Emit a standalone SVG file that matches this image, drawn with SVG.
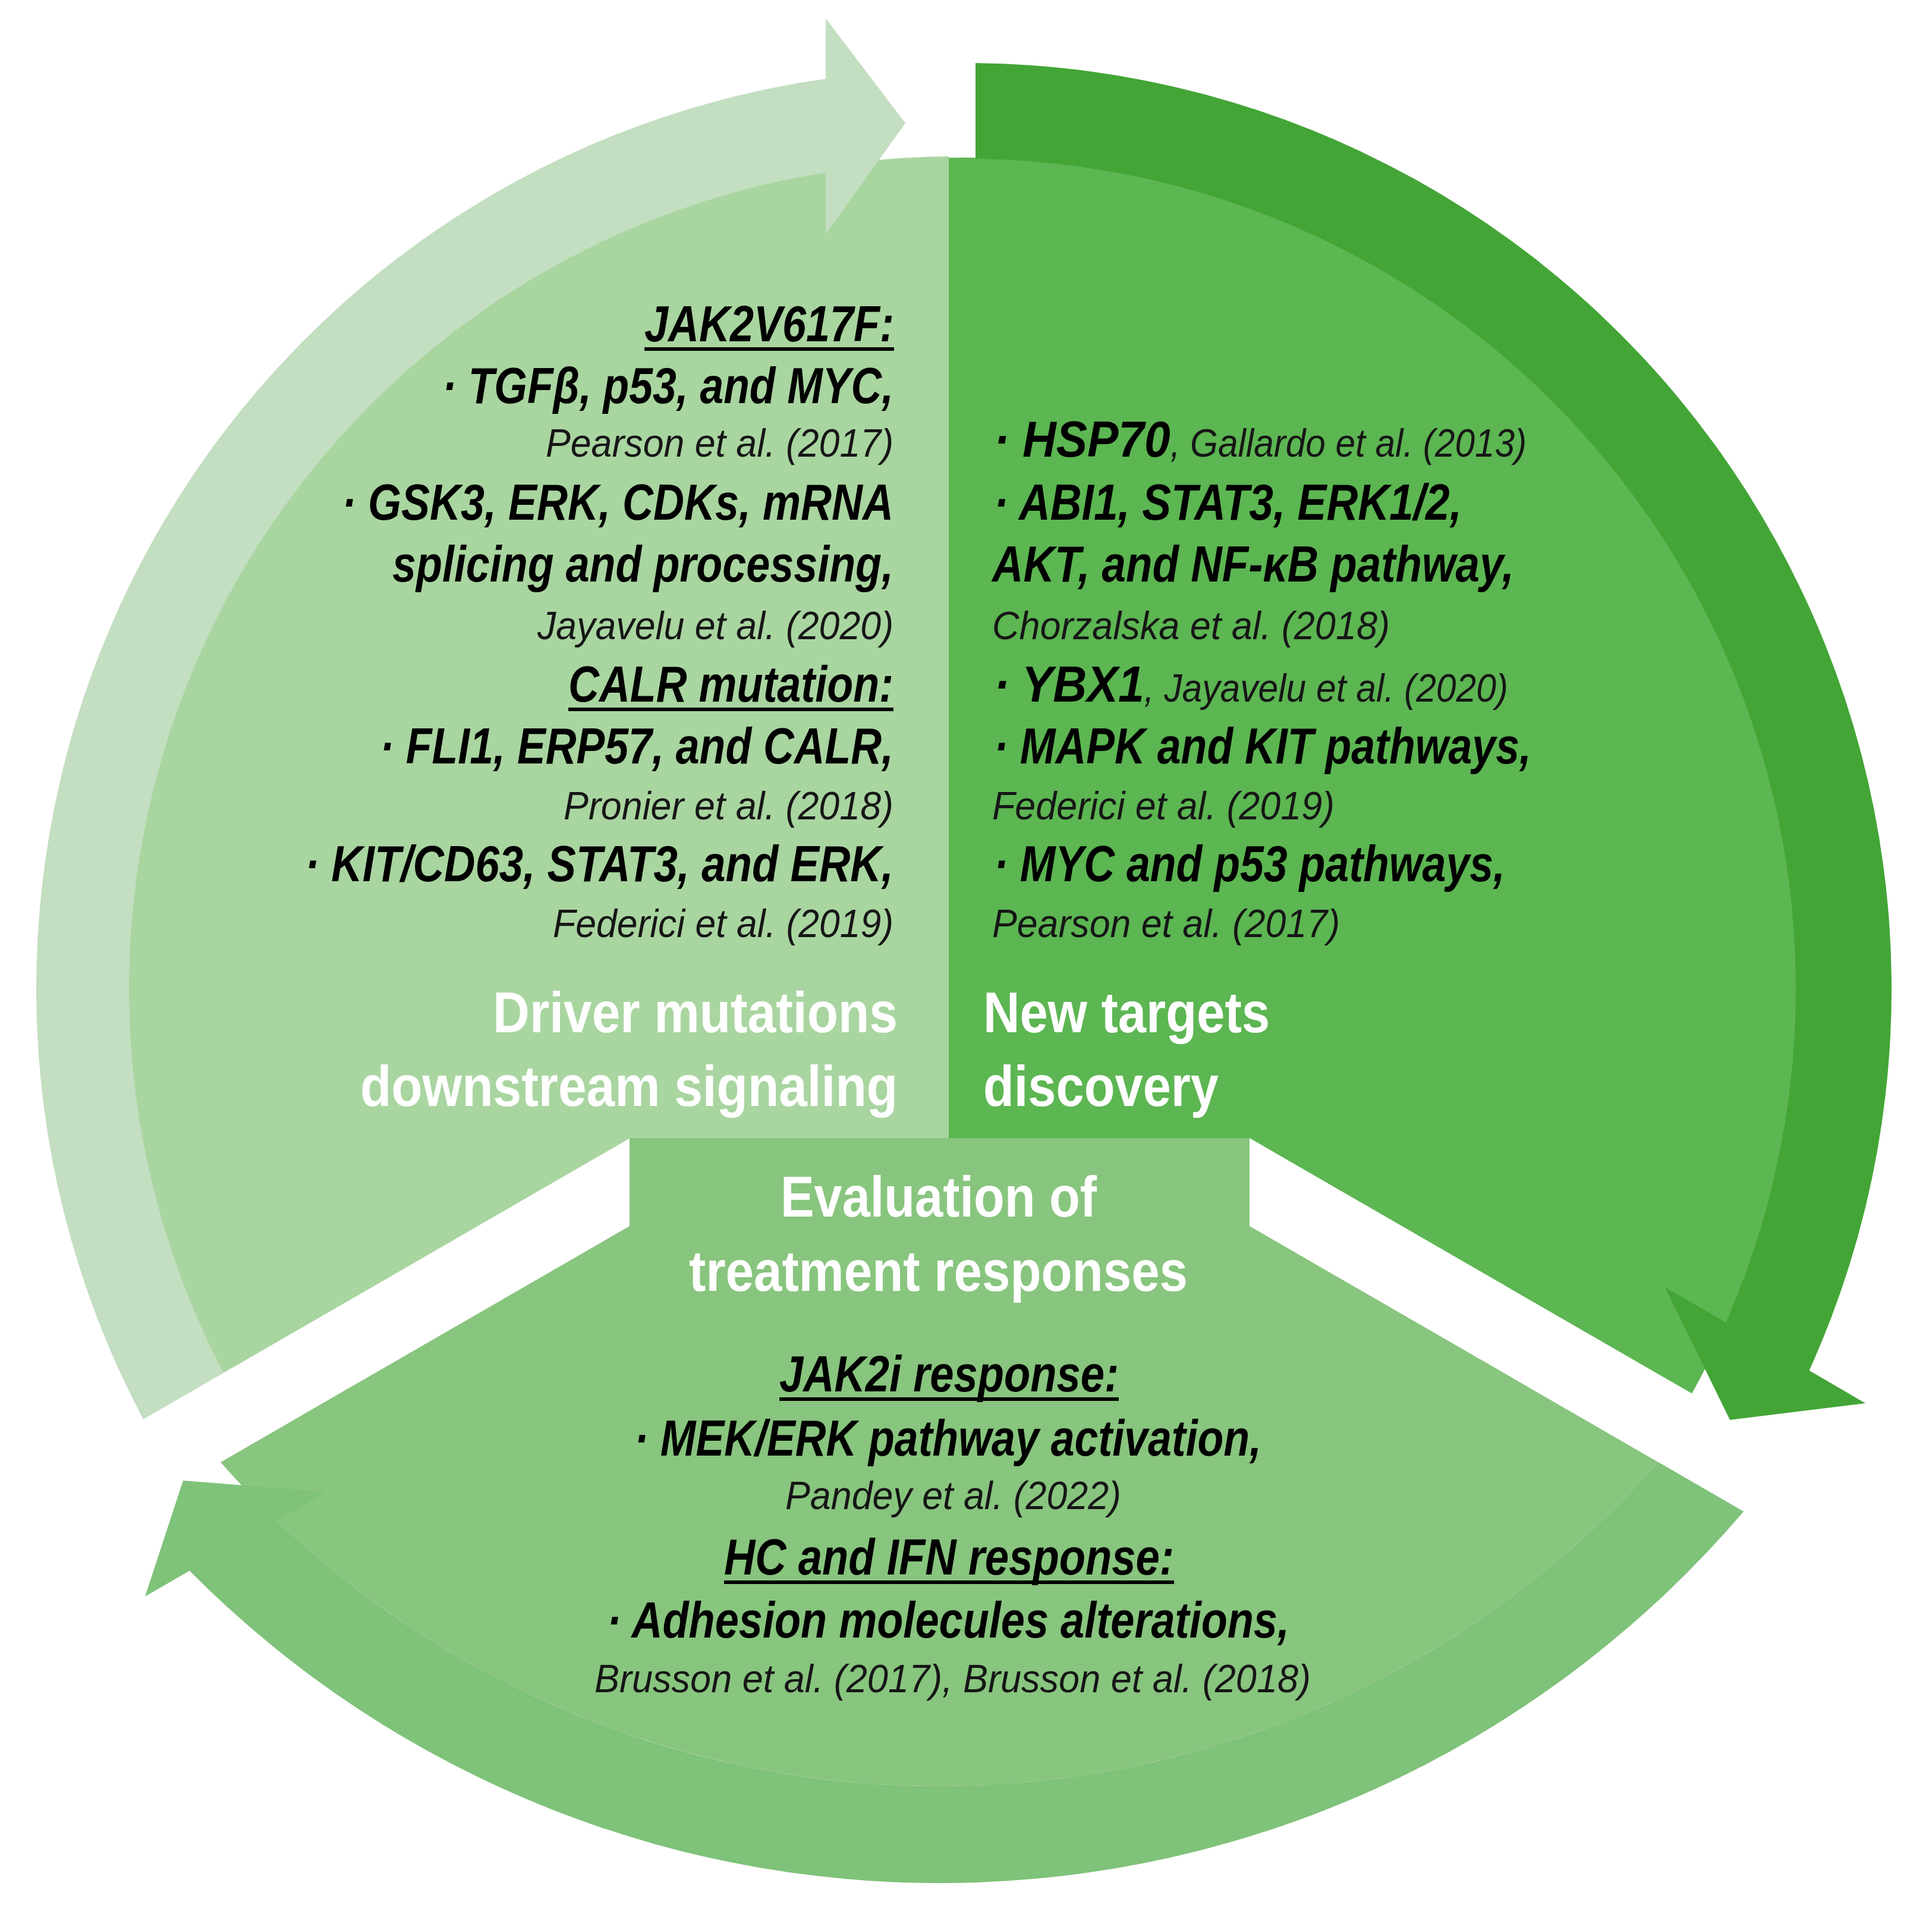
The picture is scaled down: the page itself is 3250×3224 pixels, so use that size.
<svg xmlns="http://www.w3.org/2000/svg" width="3250" height="3224" viewBox="0 0 3250 3224">
<style>
text { font-family: 'Liberation Sans Narrow', 'Liberation Sans', Arial, sans-serif; }
.b { font-weight: 700; font-style: italic; font-size: 86px; fill: #000; }
.r { font-weight: 400; font-style: italic; font-size: 66px; fill: #161616; }
.rs { font-weight: 400; font-size: 66px; fill: #161616; }
.t { font-weight: 700; font-style: normal; font-size: 97px; fill: #ffffff; }
.ul { fill: #000; }
.fl { fill: #A9D5A0; }
.fm { fill: #5CB652; }
.fb { fill: #88C57E; }
.al { fill: #C3DEC0; }
.ad { fill: #43A536; }
.ab { fill: #7FC279; }
</style>
<rect width="3250" height="3224" fill="#ffffff"/>

<g id="node-driver-mutations">
  <path class="fl" d="M1596,1914 L1060,1914 L367.5,2313.8 A1400,1400 0 0 1 1596,263 Z"/>
  <text class="b" x="1084" y="574" textLength="420" lengthAdjust="spacingAndGlyphs">JAK2V617F:</text>
  <rect class="ul" x="1084" y="584" width="420" height="6"/>
  <text class="b" x="744" y="678" textLength="759" lengthAdjust="spacingAndGlyphs">· TGFβ, p53, and MYC,</text>
  <text class="r" x="918" y="768" textLength="585" lengthAdjust="spacingAndGlyphs">Pearson et al. (2017)</text>
  <text class="b" x="575" y="874" textLength="928" lengthAdjust="spacingAndGlyphs">· GSK3, ERK, CDKs, mRNA</text>
  <text class="b" x="660" y="978" textLength="843" lengthAdjust="spacingAndGlyphs">splicing and processing,</text>
  <text class="r" x="904" y="1075" textLength="599" lengthAdjust="spacingAndGlyphs">Jayavelu et al. (2020)</text>
  <text class="b" x="956" y="1180" textLength="547" lengthAdjust="spacingAndGlyphs">CALR mutation:</text>
  <rect class="ul" x="956" y="1190" width="547" height="6"/>
  <text class="b" x="639" y="1284" textLength="864" lengthAdjust="spacingAndGlyphs">· FLI1, ERP57, and CALR,</text>
  <text class="r" x="948" y="1378" textLength="555" lengthAdjust="spacingAndGlyphs">Pronier et al. (2018)</text>
  <text class="b" x="513" y="1482" textLength="990" lengthAdjust="spacingAndGlyphs">· KIT/CD63, STAT3, and ERK,</text>
  <text class="r" x="930" y="1576" textLength="573" lengthAdjust="spacingAndGlyphs">Federici et al. (2019)</text>
  <text class="t" x="829" y="1736" textLength="681" lengthAdjust="spacingAndGlyphs">Driver mutations</text>
  <text class="t" x="606" y="1860" textLength="904" lengthAdjust="spacingAndGlyphs">downstream signaling</text>
</g>

<g id="node-new-targets">
  <path class="fm" d="M1596,1914 L1596,265.3 A1398,1398 0 0 1 2846.1,2343.6 L2102,1914 Z"/>
  <text class="b" x="1672" y="768" textLength="896" lengthAdjust="spacingAndGlyphs">· HSP70<tspan class="rs">, Gallardo et al. (2013)</tspan></text>
  <text class="b" x="1672" y="874" textLength="787" lengthAdjust="spacingAndGlyphs">· ABI1, STAT3, ERK1/2,</text>
  <text class="b" x="1669" y="978" textLength="878" lengthAdjust="spacingAndGlyphs">AKT, and NF-κB pathway,</text>
  <text class="r" x="1669" y="1075" textLength="669" lengthAdjust="spacingAndGlyphs">Chorzalska et al. (2018)</text>
  <text class="b" x="1672" y="1180" textLength="865" lengthAdjust="spacingAndGlyphs">· YBX1<tspan class="rs">, Jayavelu et al. (2020)</tspan></text>
  <text class="b" x="1672" y="1284" textLength="904" lengthAdjust="spacingAndGlyphs">· MAPK and KIT pathways,</text>
  <text class="r" x="1669" y="1378" textLength="576" lengthAdjust="spacingAndGlyphs">Federici et al. (2019)</text>
  <text class="b" x="1672" y="1482" textLength="860" lengthAdjust="spacingAndGlyphs">· MYC and p53 pathways,</text>
  <text class="r" x="1669" y="1576" textLength="585" lengthAdjust="spacingAndGlyphs">Pearson et al. (2017)</text>
  <text class="t" x="1654" y="1736" textLength="482" lengthAdjust="spacingAndGlyphs">New targets</text>
  <text class="t" x="1654" y="1860" textLength="396" lengthAdjust="spacingAndGlyphs">discovery</text>
</g>

<g id="node-treatment-responses">
  <path class="fb" d="M1059,1914 L2102,1914 L2102,2062 L2789.3,2458.9 A1614,1614 0 0 1 371,2459.2 L1059,2062 Z"/>
  <text class="t" x="1313" y="2046" textLength="532" lengthAdjust="spacingAndGlyphs">Evaluation of</text>
  <text class="t" x="1159" y="2171" textLength="839" lengthAdjust="spacingAndGlyphs">treatment responses</text>
  <text class="b" x="1311" y="2340" textLength="571" lengthAdjust="spacingAndGlyphs">JAK2i response:</text>
  <rect class="ul" x="1311" y="2350" width="571" height="6"/>
  <text class="b" x="1067" y="2448" textLength="1055" lengthAdjust="spacingAndGlyphs">· MEK/ERK pathway activation,</text>
  <text class="r" x="1321" y="2538" textLength="565" lengthAdjust="spacingAndGlyphs">Pandey et al. (2022)</text>
  <text class="b" x="1218" y="2648" textLength="757" lengthAdjust="spacingAndGlyphs">HC and IFN response:</text>
  <rect class="ul" x="1218" y="2658" width="757" height="6"/>
  <text class="b" x="1021" y="2754" textLength="1148" lengthAdjust="spacingAndGlyphs">· Adhesion molecules alterations,</text>
  <text class="r" x="1000" y="2846" textLength="1205" lengthAdjust="spacingAndGlyphs">Brusson et al. (2017), Brusson et al. (2018)</text>
</g>

<g id="connectors">
  <path id="arrow-light" class="al" d="M1389,132.4 A1546,1546 0 0 0 241,2386.9 L376.2,2308.8 A1390,1390 0 0 1 1389,290.2 L1389,394 L1523,207 L1389,31 Z"/>
  <path id="arrow-dark" class="ad" d="M1641,106.1 A1557,1557 0 0 1 3043.5,2305 L3138,2360 L2910,2388 L2801,2165 L2903.3,2224 A1396,1396 0 0 0 1641,267.1 Z"/>
  <path id="arrow-bottom" class="ab" d="M2933.1,2541.9 A1777,1777 0 0 1 318.8,2641.8 L244,2685 L308,2490 L548.8,2509 L465.3,2557.2 A1614,1614 0 0 0 2789.3,2458.9 Z"/>
</g>
</svg>
